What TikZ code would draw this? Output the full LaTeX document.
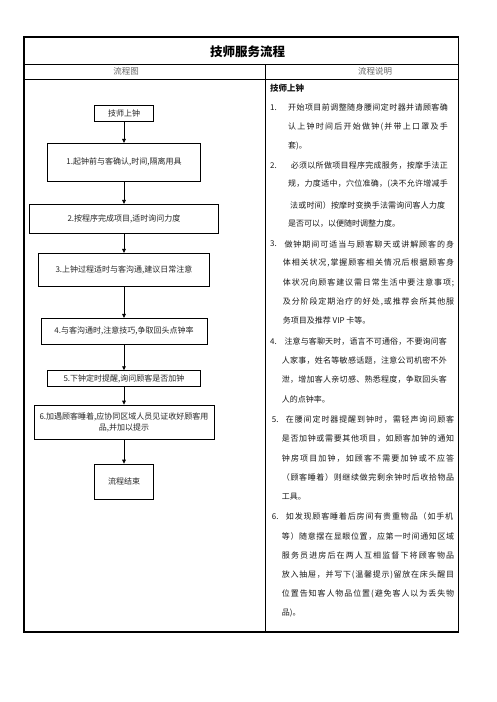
\documentclass[tikz,border=0pt]{standalone}
\usepackage{fontspec}
\setmainfont{Noto Sans CJK SC}
\usetikzlibrary{arrows.meta}
\ExplSyntaxOn
\NewDocumentCommand\spreadtxt{m m}{\hbox~to~#1{\tl_map_inline:nn{#2}{##1\hfil}\unskip}}
\ExplSyntaxOff
\tikzset{
  flowbox/.style={draw=black, line width=0.8pt, inner sep=0pt, align=center, text=black!85, font=\fontsize{8}{11}\selectfont},
  flowarrow/.style={draw=black, line width=0.8pt, -{Triangle[length=4pt,width=3.6pt]}},
  txt/.style={anchor=west, inner sep=0pt, text=black!90, font=\fontsize{8}{10}\selectfont},
  hdr/.style={inner sep=0pt, text=black!60, font=\fontsize{8.5}{10}\selectfont},
  tbl/.style={draw=black, line width=1.1pt},
  tblin/.style={draw=black, line width=0.8pt}
}
\newcommand{\jline}[5]{\node[txt] (#1) at (#2,#3) {\vphantom{国}\spreadtxt{\dimexpr #4pt-#2pt\relax}{#5}};}
\newcommand{\pline}[4]{\node[txt] (#1) at (#2,#3) {\vphantom{国}#4};}
\begin{document}
\begin{tikzpicture}[x=1pt,y=-1pt]
\useasboundingbox (0,0) rectangle (496,702);
% table
\draw[tbl] (24,37) rectangle (458.3,632);
\draw[tblin] (24,64) -- (458.3,64);
\draw[tblin] (24,79) -- (458.3,79);
\draw[tblin] (265.5,64) -- (265.5,632);
\node[inner sep=0pt, font=\fontsize{12.5}{14}\selectfont\bfseries] (title) at (247.5,51.5) {技师服务流程};
\node[hdr] (h1) at (126,71) {流程图};
\node[hdr] (h2) at (375,71) {流程说明};
% flowchart
\node[flowbox, minimum width=59.7pt, minimum height=16.7pt] (s0) at (124,113.3) {技师上钟};
\node[flowbox, minimum width=153.4pt, minimum height=37.7pt] (b1) at (124,162.2) {1.起钟前与客确认,时间,隔离用具};
\node[flowbox, minimum width=189.4pt, minimum height=29pt] (b2) at (124,218.8) {2.按程序完成项目,适时询问力度};
\node[flowbox, minimum width=171.4pt, minimum height=32.7pt] (b3) at (124,269.7) {3.上钟过程适时与客沟通,建议日常注意};
\node[flowbox, minimum width=166pt, minimum height=25.7pt] (b4) at (124,331.2) {4.与客沟通时,注意技巧,争取回头点钟率};
\node[flowbox, minimum width=153.3pt, minimum height=16pt] (b5) at (124,378.7) {5.下钟定时提醒,询问顾客是否加钟};
\node[flowbox, minimum width=180pt, minimum height=34.3pt] (b6) at (124,422.2) {6.加遇顾客睡着,应协同区域人员见证收好顾客用\\品,并加以提示};
\node[flowbox, minimum width=59.7pt, minimum height=35.3pt] (e0) at (124,481.7) {流程结束};
\draw[flowarrow] (s0) -- (b1);
\draw[flowarrow] (b1) -- (b2);
\draw[flowarrow] (b2) -- (b3);
\draw[flowarrow] (b3) -- (b4);
\draw[flowarrow] (b4) -- (b5);
\draw[flowarrow] (b5) -- (b6);
\draw[flowarrow] (b6) -- (e0);
% description
\node[txt, font=\fontsize{8.5}{10}\selectfont\bfseries] (d0) at (270,88.3) {技师上钟};
\pline{n1}{270}{107.3}{1.}
\jline{a1}{288}{107.3}{447.7}{开始项目前调整随身腰间定时器并请顾客确}
\jline{a2}{288}{126.7}{447.7}{认上钟时间后开始做钟(并带上口罩及手}
\pline{a3}{288}{146}{套)。}
\pline{n2}{270}{165.7}{2.}
\jline{b1l}{290.7}{165.7}{447.7}{必须以所做项目程序完成服务，按摩手法正}
\jline{b2l}{288}{184.3}{447.7}{规，力度适中，穴位准确，(决不允许增减手}
\jline{b3l}{290}{205}{445}{法或时间）按摩时变换手法需询问客人力度}
\pline{b4l}{288}{224}{是否可以，以便随时调整力度。}
\pline{n3}{270}{244}{3.}
\jline{c1}{284.3}{244}{454}{做钟期间可适当与顾客聊天或讲解顾客的身}
\jline{c2}{282.7}{263.3}{454}{体相关状况,掌握顾客相关情况后根据顾客身}
\jline{c3}{282.7}{283.3}{454}{体状况向顾客建议需日常生活中要注意事项;}
\jline{c4}{282.7}{301.7}{454}{及分阶段定期治疗的好处,或推荐会所其他服}
\pline{c5}{282.7}{320.7}{务项目及推荐 VIP 卡等。}
\pline{n4}{270}{341.7}{4.}
\jline{d1}{284.3}{341.7}{446.7}{注意与客聊天时，语言不可通俗，不要询问客}
\jline{d2}{281.7}{360.7}{446.7}{人家事，姓名等敏感话题，注意公司机密不外}
\jline{d3}{281.7}{380}{446.7}{泄，增加客人亲切感、熟悉程度，争取回头客}
\pline{d4}{281.7}{399}{人的点钟率。}
\pline{n5}{271.7}{419.3}{5.}
\jline{e1}{285.7}{419.3}{454}{在腰间定时器提醒到钟时，需轻声询问顾客}
\jline{e2}{281.7}{438.3}{454}{是否加钟或需要其他项目，如顾客加钟的通知}
\jline{e3}{281.7}{458.3}{454}{钟房项目加钟，如顾客不需要加钟或不应答}
\jline{e4}{281.7}{477.7}{454}{（顾客睡着）则继续做完剩余钟时后收拾物品}
\pline{e5}{281.7}{496.7}{工具。}
\pline{n6}{271.7}{516.7}{6.}
\jline{f1}{285.7}{516.7}{453}{如发现顾客睡着后房间有贵重物品（如手机}
\jline{f2}{281.7}{536}{454}{等）随意摆在显眼位置，应第一时间通知区域}
\jline{f3}{281.7}{555}{454}{服务员进房后在两人互相监督下将顾客物品}
\jline{f4}{281.7}{575}{454}{放入抽屉，并写下(温馨提示)留放在床头醒目}
\jline{f5}{281.7}{594.3}{454}{位置告知客人物品位置(避免客人以为丢失物}
\pline{f6}{281.7}{613.3}{品)。}
\end{tikzpicture}
\end{document}
